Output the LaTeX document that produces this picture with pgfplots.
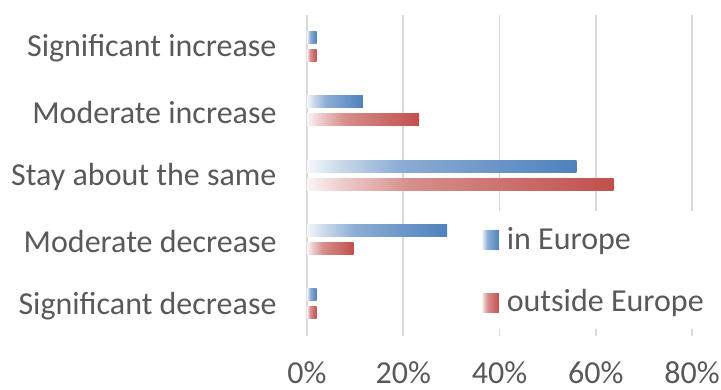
\documentclass[border=0pt]{standalone}
\usepackage{pgfplots}
\pgfplotsset{compat=1.18}
\usepackage{fontspec}
\setmainfont{Carlito}

\definecolor{eublue}{HTML}{4F81BD}
\definecolor{eured}{HTML}{C0504D}
\definecolor{labelgray}{HTML}{595959}
\definecolor{gridgray}{HTML}{D9D9D9}

% gradient fills: the path is mapped onto 25bp..75bp
\pgfdeclarehorizontalshading{bluefade}{100bp}{%
  color(0bp)=(white); color(25bp)=(eublue!6!white);
  color(31bp)=(eublue!30!white); color(42bp)=(eublue!65!white);
  color(75bp)=(eublue); color(100bp)=(eublue)}
\pgfdeclarehorizontalshading{redfade}{100bp}{%
  color(0bp)=(white); color(25bp)=(eured!6!white);
  color(31bp)=(eured!30!white); color(42bp)=(eured!65!white);
  color(75bp)=(eured); color(100bp)=(eured)}

\pgfplotsset{
  inEU/.style={draw=none, shading=bluefade, bar shift=9pt, forget plot},
  outEU/.style={draw=none, shading=redfade, bar shift=-9pt, forget plot},
}

\begin{document}
\begin{tikzpicture}
\useasboundingbox (-307pt,-53pt) rectangle (414pt,336pt);
\begin{axis}[
  scale only axis,
  width=385pt, height=321.5pt,
  xmin=0, xmax=80, ymin=-0.5, ymax=4.5,
  axis line style={draw=none},
  major tick length=0pt,
  xtick={20,40,60,80},
  xticklabels={20\%,40\%,60\%,80\%},
  extra x ticks={0},
  extra x tick labels={0\%},
  extra x tick style={grid style={draw=gridgray, line width=4pt}},
  xmajorgrids,
  major grid style={draw=gridgray, line width=1.6pt},
  ytick={0,1,2,3,4},
  yticklabels={Significant decrease,Moderate decrease,Stay about the same,Moderate increase,Significant increase},
  tick label style={font=\fontsize{32}{38}\selectfont, text=labelgray},
  xticklabel style={inner sep=1pt, yshift=-24pt},
  yticklabel style={xshift=-27pt, yshift=-2pt},
  xbar, bar width=12pt,
  legend cell align=left,
  legend style={
    at={(0.438,0.389)}, anchor=north west,
    draw=none, fill=white,
    font=\fontsize{32}{38}\selectfont, text=labelgray,
    inner xsep=6pt, inner ysep=14pt,
    row sep=35pt, column sep=6pt,
  },
]
\addlegendimage{draw=none, legend image code/.code={\path[draw=none, shading=bluefade] (0pt,-11pt) rectangle (17pt,8pt);}}
\addlegendentry{in Europe}
\addlegendimage{draw=none, legend image code/.code={\path[draw=none, shading=redfade] (0pt,-11pt) rectangle (17pt,8pt);}}
\addlegendentry{outside Europe}

% in Europe (one bar per category so each carries its own gradient)
\addplot[inEU] coordinates {(2,4)};
\addplot[inEU] coordinates {(11.6,3)};
\addplot[inEU] coordinates {(56,2)};
\addplot[inEU] coordinates {(29.1,1)};
\addplot[inEU] coordinates {(2,0)};
% outside Europe
\addplot[outEU] coordinates {(2,4)};
\addplot[outEU] coordinates {(23.3,3)};
\addplot[outEU] coordinates {(63.7,2)};
\addplot[outEU] coordinates {(9.7,1)};
\addplot[outEU] coordinates {(2,0)};
\end{axis}
\end{tikzpicture}
\end{document}
